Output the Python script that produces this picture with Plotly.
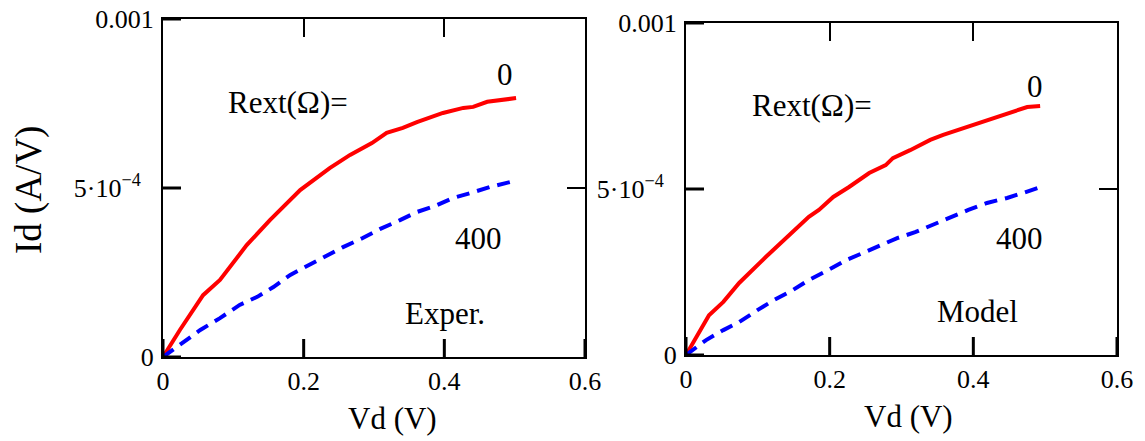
import plotly.graph_objects as go

# ---- data ----
# Left panel: experiment
vd_exp_r0 = [0.0, 0.024, 0.057, 0.081, 0.119, 0.152, 0.195, 0.237, 0.266, 0.297, 0.318,
             0.341, 0.361, 0.398, 0.427, 0.441, 0.461, 0.479, 0.502]
id_exp_r0 = [0.0, 8.0e-5, 1.83e-4, 2.28e-4, 3.31e-4, 4.05e-4, 4.94e-4, 5.59e-4, 5.98e-4, 6.33e-4, 6.63e-4,
             6.78e-4, 6.95e-4, 7.22e-4, 7.37e-4, 7.40e-4, 7.55e-4, 7.60e-4, 7.66e-4]
vd_exp_r400 = [0.0, 0.053, 0.081, 0.109, 0.134, 0.157, 0.181, 0.202, 0.233, 0.256, 0.284,
               0.309, 0.337, 0.361, 0.387, 0.412, 0.437, 0.465, 0.494]
id_exp_r400 = [0.0, 8.0e-5, 1.15e-4, 1.54e-4, 1.78e-4, 2.07e-4, 2.43e-4, 2.66e-4, 2.99e-4, 3.25e-4, 3.52e-4,
               3.79e-4, 4.05e-4, 4.29e-4, 4.47e-4, 4.70e-4, 4.85e-4, 5.03e-4, 5.18e-4]

# Right panel: model
vd_mod_r0 = [0.0, 0.032, 0.052, 0.074, 0.111, 0.149, 0.171, 0.185, 0.205, 0.227, 0.255,
             0.278, 0.288, 0.312, 0.340, 0.358, 0.391, 0.419, 0.447, 0.475, 0.493]
id_mod_r0 = [0.0, 1.20e-4, 1.60e-4, 2.17e-4, 2.95e-4, 3.70e-4, 4.16e-4, 4.37e-4, 4.76e-4, 5.06e-4, 5.48e-4,
             5.72e-4, 5.93e-4, 6.17e-4, 6.48e-4, 6.63e-4, 6.87e-4, 7.08e-4, 7.29e-4, 7.47e-4, 7.50e-4]
vd_mod_r400 = [0.0, 0.028, 0.052, 0.074, 0.100, 0.123, 0.149, 0.171, 0.198, 0.223, 0.246,
               0.271, 0.294, 0.319, 0.343, 0.367, 0.393, 0.419, 0.447, 0.469, 0.490]
id_mod_r400 = [0.0, 4.5e-5, 7.5e-5, 9.9e-5, 1.36e-4, 1.66e-4, 1.96e-4, 2.26e-4, 2.56e-4, 2.86e-4, 3.07e-4,
               3.31e-4, 3.52e-4, 3.70e-4, 3.92e-4, 4.16e-4, 4.37e-4, 4.58e-4, 4.73e-4, 4.88e-4, 5.03e-4]

x_tickvals = [0, 0.2, 0.4, 0.6]
x_ticktext = ["0", "0.2", "0.4", "0.6"]
y_tickvals = [0, 5e-4, 1e-3]
y_ticktext = ["0", "5\u00b710<sup>\u22124</sup>\u00a0\u00a0", "0.001"]

FONT = "Liberation Serif"
RED = "#ff0000"
BLUE = "#0000ff"

fig = go.Figure()
fig.add_trace(go.Scatter(x=vd_exp_r0, y=id_exp_r0, mode="lines",
                         line=dict(color=RED, width=4), xaxis="x", yaxis="y"))
fig.add_trace(go.Scatter(x=vd_exp_r400, y=id_exp_r400, mode="lines",
                         line=dict(color=BLUE, width=4, dash="13px,8px"), xaxis="x", yaxis="y"))
fig.add_trace(go.Scatter(x=vd_mod_r0, y=id_mod_r0, mode="lines",
                         line=dict(color=RED, width=4), xaxis="x2", yaxis="y2"))
fig.add_trace(go.Scatter(x=vd_mod_r400, y=id_mod_r400, mode="lines",
                         line=dict(color=BLUE, width=4, dash="13px,8px"), xaxis="x2", yaxis="y2"))

W, H = 1145, 441
TICKLEN = 18

common = dict(ticks="inside", ticklen=TICKLEN, tickwidth=2, tickcolor="black",
              showline=True, linewidth=2, linecolor="black", mirror="ticks",
              showgrid=False, zeroline=False, automargin=False,
              tickfont=dict(family=FONT, size=26, color="black"))

xa = dict(common, range=[0, 0.6], tickmode="array", tickvals=x_tickvals, ticktext=x_ticktext)
ya = dict(common, range=[0, 0.001], tickmode="array", tickvals=y_tickvals, ticktext=y_ticktext,
          ticklabelstandoff=2)

dom = {
    "1": dict(x=[163 / W, 585 / W], y=[1 - 357 / H, 1 - 19 / H]),
    "2": dict(x=[686 / W, 1117 / W], y=[1 - 355 / H, 1 - 23 / H]),
}

fig.update_layout(
    width=W, height=H,
    margin=dict(l=0, r=0, t=0, b=0, autoexpand=False),
    paper_bgcolor="white", plot_bgcolor="white",
    showlegend=False,
    xaxis=dict(xa, domain=dom["1"]["x"], anchor="y"),
    yaxis=dict(ya, domain=dom["1"]["y"], anchor="x"),
    xaxis2=dict(xa, domain=dom["2"]["x"], anchor="y2"),
    yaxis2=dict(ya, domain=dom["2"]["y"], anchor="x2"),
)

# inside tick marks on the bottom and left borders, placed through the axes' own scales
for key, xr, yr in [("1", "x", "y"), ("2", "x2", "y2")]:
    pw = (dom[key]["x"][1] - dom[key]["x"][0]) * W
    ph = (dom[key]["y"][1] - dom[key]["y"][0]) * H
    for tv in x_tickvals:
        fig.add_shape(type="line", xref=xr, yref=yr + " domain", x0=tv, x1=tv,
                      y0=0.0, y1=TICKLEN / ph, line=dict(color="black", width=3), layer="above")
    for tv in y_tickvals:
        fig.add_shape(type="line", xref=xr + " domain", yref=yr, x0=0.0, x1=TICKLEN / pw,
                      y0=tv, y1=tv, line=dict(color="black", width=3), layer="above")

def txt(text, x, y, xref, yref, size=31, **kw):
    fig.add_annotation(text=text, x=x, y=y, xref=xref, yref=yref, showarrow=False,
                       font=dict(family=FONT, size=size, color="black"),
                       xanchor="center", yanchor="middle", **kw)

# left panel labels
txt("Rext(\u03a9)=", 0.178, 7.52e-4, "x", "y")
txt("0", 0.486, 8.37e-4, "x", "y")
txt("400", 0.448, 3.52e-4, "x", "y")
txt("Exper.", 0.401, 1.30e-4, "x", "y")
# right panel labels
txt("Rext(\u03a9)=", 0.175, 7.53e-4, "x2", "y2")
txt("0", 0.486, 8.10e-4, "x2", "y2")
txt("400", 0.464, 3.52e-4, "x2", "y2")
txt("Model", 0.406, 1.30e-4, "x2", "y2")

# axis titles
txt("Vd (V)", 392 / W, 1 - 418 / H, "paper", "paper")
txt("Vd (V)", 908 / W, 1 - 416 / H, "paper", "paper")
txt("Id (A/V)", 29 / W, 1 - 190 / H, "paper", "paper", size=37, textangle=-90)

fig.write_html("out.html", config={"displayModeBar": False},
               post_script="document.body.style.margin='0';")
